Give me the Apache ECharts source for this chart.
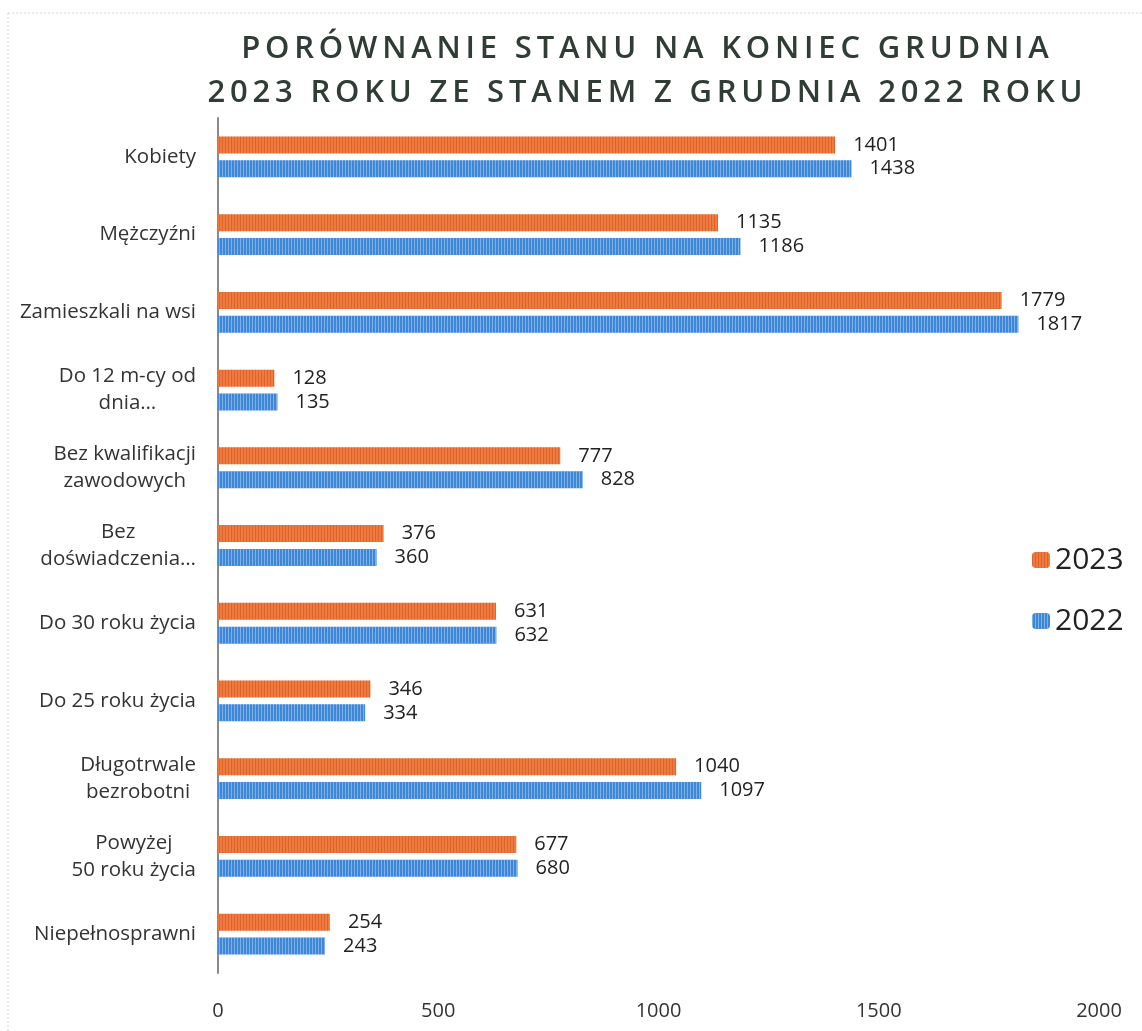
<!DOCTYPE html>
<html>
<head>
<meta charset="utf-8">
<script src="https://cdn.jsdelivr.net/npm/echarts@6/dist/echarts.min.js"></script>
<style>html,body{margin:0;padding:0;background:#fff;}#c{width:1142px;height:1031px;}</style>
</head>
<body>
<div id="c"></div>
<script>
const titleLines = ['PORÓWNANIE STANU NA KONIEC GRUDNIA', '2023 ROKU ZE STANEM Z GRUDNIA 2022 ROKU'];
const categories = ['Kobiety','Mężczyźni','Zamieszkali na wsi','Do 12 m-cy od\ndnia…','Bez kwalifikacji\nzawodowych','Bez\ndoświadczenia…','Do 30 roku życia','Do 25 roku życia','Długotrwale\nbezrobotni','Powyżej\n50 roku życia','Niepełnosprawni'];
const seriesNames = ['2023','2022'];
const values2023 = [1401,1135,1779,128,777,376,631,346,1040,677,254];
const values2022 = [1438,1186,1817,135,828,360,632,334,1097,680,243];
const xTicks = {min: 0, max: 2000, interval: 500};

const FONT = '"Open Sans", sans-serif';
const chart = echarts.init(document.getElementById('c'), null, {renderer: 'canvas'});
// letter-spaced title: each character as its own rich token
const spacedTitle = titleLines.map(line => Array.from(line).map(ch => '{t|' + ch + '}').join('')).join('\n');
const stripe = (c) => ({
  symbol: 'rect', symbolSize: 1, color: c,
  dashArrayX: [1, 2], dashArrayY: [4, 0], rotation: 0
});
const mk = (name, data, color, dec) => ({
  name, type: 'bar', data,
  barWidth: 17, barGap: '40%',
  itemStyle: {color, decal: stripe(dec)},
  label: {show: true, position: 'right', distance: 18, fontFamily: FONT, fontSize: 20, color: '#222'}
});
chart.setOption({
  animation: false,
  backgroundColor: '#fff',
  title: {
    text: spacedTitle, left: 640, top: 22, textAlign: 'center',
    textStyle: {
      fontFamily: FONT, fontSize: 31, fontWeight: 600, color: '#2f3d35', lineHeight: 44,
      rich: {t: {fontFamily: FONT, fontSize: 31, fontWeight: 600, color: '#2f3d35', lineHeight: 44, padding: [0, 2.4, 0, 2.4]}}
    }
  },
  legend: {
    orient: 'vertical', left: 1027, top: 540, itemWidth: 18, itemHeight: 16, itemGap: 31,
    textStyle: {fontFamily: FONT, fontSize: 30, color: '#222'},
    data: seriesNames
  },
  grid: {left: 218, right: 43, top: 118, bottom: 58, containLabel: false},
  xAxis: {
    type: 'value', min: xTicks.min, max: xTicks.max, interval: xTicks.interval,
    splitLine: {show: false}, axisLine: {show: false}, axisTick: {show: false},
    axisLabel: {fontFamily: FONT, fontSize: 20, color: '#333', margin: 28, formatter: (v) => String(v)}
  },
  yAxis: {
    type: 'category', data: categories, inverse: true,
    axisLine: {show: true, lineStyle: {color: '#8a8a8a', width: 2}},
    axisTick: {show: false},
    axisLabel: {
      fontFamily: FONT, fontSize: 20.5, color: '#333', margin: 22, lineHeight: 27,
      formatter: (v) => v.split('\n').map(l => '{c|' + l + '}').join('\n'),
      rich: {c: {align: 'center', fontFamily: FONT, fontSize: 20.5, color: '#333', lineHeight: 27}}
    }
  },
  graphic: [
    {type: 'line', shape: {x1: 8, y1: 13, x2: 1142, y2: 13}, style: {stroke: '#d6d6d6', lineWidth: 1, lineDash: [2, 2]}},
    {type: 'line', shape: {x1: 8, y1: 13, x2: 8, y2: 1031}, style: {stroke: '#d6d6d6', lineWidth: 1, lineDash: [2, 2]}}
  ],
  series: [
    mk(seriesNames[0], values2023, '#ee7a3e', 'rgba(190,60,20,0.35)'),
    mk(seriesNames[1], values2022, '#3d87d6', 'rgba(255,255,255,0.35)')
  ]
});
</script>
</body>
</html>
